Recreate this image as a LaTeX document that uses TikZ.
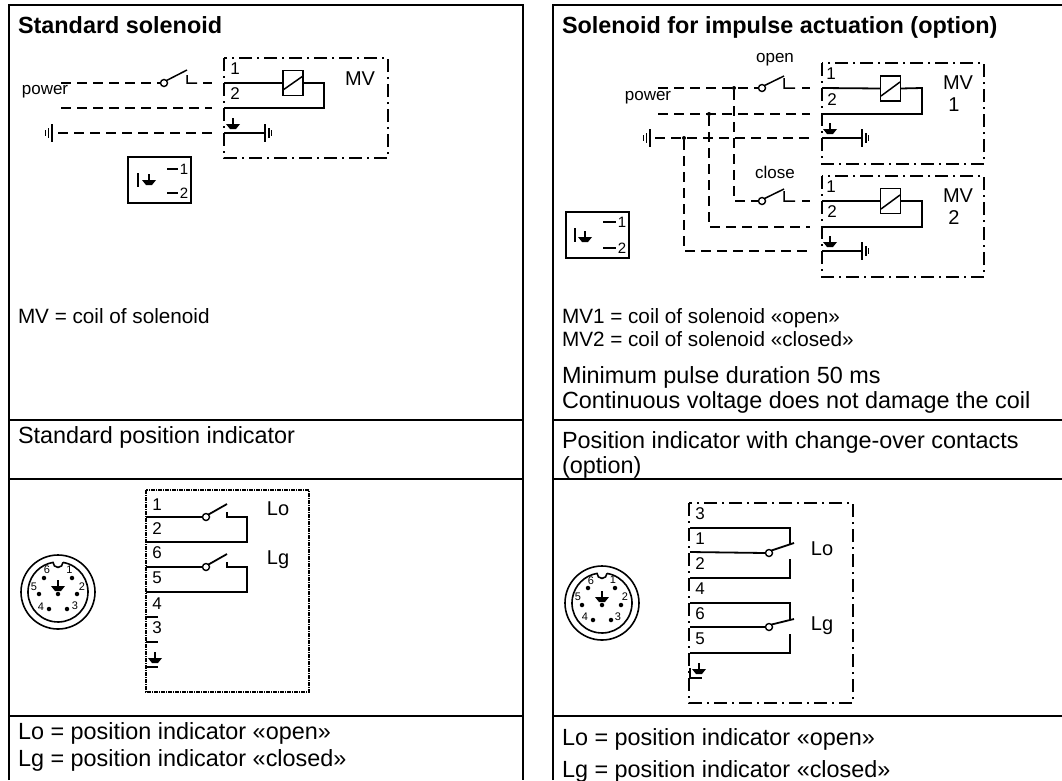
\documentclass[tikz,border=0pt]{standalone}
\usepackage{fontspec}
\setmainfont{Liberation Sans}
\tikzset{
 frameline/.style={line width=2pt,black},
 wire/.style={line width=1.8pt,black},
 thinwire/.style={line width=1.5pt,black},
 dashwire/.style={line width=1.6pt,black,dash pattern=on 10pt off 6pt},
 dashdotbox/.style={line width=1.6pt,black,dash pattern=on 13pt off 5pt on 2pt off 5pt},
 finebox/.style={line width=1.5pt,black,dash pattern=on 4pt off 1pt on 1pt off 1pt},
 body/.style={anchor=base west,inner sep=0pt,outer sep=0pt,font=\fontsize{23.4}{26}\selectfont},
 small/.style={anchor=base west,inner sep=0pt,outer sep=0pt,font=\fontsize{20.7}{24}\selectfont},
 head/.style={anchor=base west,inner sep=0pt,outer sep=0pt,font=\fontsize{23.4}{26}\selectfont\bfseries},
 lab/.style={inner sep=0pt,outer sep=0pt,font=\fontsize{17}{19}\selectfont},
 digit/.style={inner sep=0pt,outer sep=0pt,font=\fontsize{17}{19}\selectfont},
 keydigit/.style={inner sep=0pt,outer sep=0pt,font=\fontsize{15}{17}\selectfont},
 biglab/.style={inner sep=0pt,outer sep=0pt,font=\fontsize{20}{22}\selectfont},
 tiny/.style={inner sep=0pt,outer sep=0pt,font=\fontsize{11}{13}\selectfont},
 coilbox/.style={draw,line width=1.6pt,minimum width=20pt,minimum height=25pt,inner sep=0pt,outer sep=0pt},
 pivot/.style={circle,draw,line width=1.4pt,fill=white,minimum size=7pt,inner sep=0pt,outer sep=0pt},
 junction/.style={circle,fill=black,minimum size=4pt,inner sep=0pt,outer sep=0pt},
 keybox/.style={draw,line width=2pt,minimum width=63pt,minimum height=46pt,inner sep=0pt,outer sep=0pt},
 pin/.style={circle,fill=black,minimum size=4.5pt,inner sep=0pt,outer sep=0pt},
 chassis/.pic={\fill[black] (-7,0)--(7,0)--(3,5)--(-3,5)--cycle; \draw[line width=1.6pt] (0,-6)--(0,3);},
 earthR/.pic={\draw[line width=1.6pt] (0,-9)--(0,9); \draw[line width=1.2pt] (4,-5)--(4,5); \draw[line width=1.2pt] (6.5,-3)--(6.5,3);},
 earthL/.pic={\draw[line width=1.6pt] (0,-9)--(0,9); \draw[line width=1.2pt] (-3.5,-5)--(-3.5,5); \draw[line width=1.2pt] (-6.5,-3)--(-6.5,3);},
}
\begin{document}
\begin{tikzpicture}[x=1pt,y=-1pt]
\useasboundingbox (0,0) rectangle (1062,780);
% table frames
\coordinate (LT) at (9,5); \coordinate (RT) at (523,5);
\coordinate (LB) at (9,780); \coordinate (RB) at (523,780);
\draw[frameline] (LB)--(LT)--(RT)--(RB);
\draw[frameline] (9,420)--(523,420) (9,479)--(523,479) (9,716)--(523,716);
\coordinate (L2T) at (552.5,5); \coordinate (L2B) at (552.5,780); \coordinate (R2T) at (1062,5);
\draw[frameline] (L2B)--(L2T)--(R2T);
\draw[frameline] (552.5,420)--(1062,420) (552.5,479)--(1062,479) (552.5,716)--(1062,716);
% texts left
\node[head] (t1) at (18,33.5) {Standard solenoid};
\node[small] (t2) at (18,323) {MV = coil of solenoid};
\node[body] (t3) at (18,443) {Standard position indicator};
\node[body] (t4) at (18,739) {Lo = position indicator «open»};
\node[body] (t5) at (18,766) {Lg = position indicator «closed»};
% texts right
\node[head] (t6) at (562,33.5) {Solenoid for impulse actuation (option)};
\node[small] (t7) at (562,323) {MV1 = coil of solenoid «open»};
\node[small] (t8) at (562,346) {MV2 = coil of solenoid «closed»};
\node[body] (t9) at (562,383) {Minimum pulse duration 50 ms};
\node[body] (t10) at (562,408) {Continuous voltage does not damage the coil};
\node[body] (t11) at (562,448) {Position indicator with change-over contacts};
\node[body] (t12) at (562,473) {(option)};
\node[body] (t13) at (562,745) {Lo = position indicator «open»};
\node[body] (t14) at (562,777) {Lg = position indicator «closed»};

% ---------- top left schematic
\draw[dashdotbox] (224,58) rectangle (388,158);
\node[lab] (pw) at (45,92) {power};
\coordinate (a1) at (61,83); \coordinate (a2) at (61,108);
\coordinate (b1) at (224,83); \coordinate (b2) at (224,108); \coordinate (b3) at (224,133);
\node[pivot] (s1) at (164,83) {};
\coordinate (s1t) at (187,70); \coordinate (s1c) at (187,75); \coordinate (s1k) at (187,83); \coordinate (s1e) at (197,83);
\draw[dashwire] (a1)--(s1.west);
\draw[thinwire] (s1.north east)--(s1t) (s1c)--(s1k)--(s1e);
\draw[dashwire] (203,83)--(212,83);
\draw[dashwire] (a2)--(212,108);
\node[coilbox] (c1) at (293,83) {};
\coordinate (c1r) at (324,83); \coordinate (c1q) at (324,108);
\draw[thinwire] (283,90)--(303,76);
\draw[wire] (b1)--(c1.west) (c1.east)--(c1r)--(c1q)--(b2);
\node[biglab] (mv) at (360,79) {MV};
\node[digit] (n1) at (235,69) {1};
\node[digit] (n2) at (235,94) {2};
\pic at (233,124) {chassis};
\coordinate (g1r) at (265,133); \coordinate (g1l) at (52,133);
\draw[wire] (b3)--(g1r);
\pic at (g1r) {earthR};
\pic at (g1l) {earthL};
\draw[dashwire] (58,133)--(212,133);
\node[keybox] (k1) at (159.5,180) {};
\draw[line width=1.8pt] (138,173)--(138,187) (167,169)--(178,169) (167,193)--(178,193);
\pic at (149,180) {chassis};
\node[keydigit] (k11) at (184,169) {1};
\node[keydigit] (k12) at (184,193) {2};

% ---------- top right schematic
\draw[dashdotbox] (822,63) rectangle (984,164);
\draw[dashdotbox] (822,176) rectangle (984,277);
\node[lab] (pw2) at (648,98) {power};
\node[lab] (op) at (775,60) {open};
\node[lab] (cl) at (775,172) {close};
\coordinate (p1) at (658,88); \coordinate (p2) at (658,114);
\node[junction] (j1) at (734,88) {};
\node[junction] (j2) at (709,114) {};
\node[junction] (j3) at (684,138) {};
\node[pivot] (s2) at (762,88) {};
\node[pivot] (s3) at (762,201) {};
\coordinate (d1) at (822,88); \coordinate (d2) at (822,114); \coordinate (d3) at (822,138);
\coordinate (e1) at (822,201); \coordinate (e2) at (822,227); \coordinate (e3) at (822,251);
\coordinate (f1) at (810,88); \coordinate (f2) at (810,114); \coordinate (f3) at (810,138);
\coordinate (h1) at (810,201); \coordinate (h2) at (810,227); \coordinate (h3) at (810,251);
\draw[dashwire] (p1)--(s2.west);
\draw[dashwire] (p2)--(f2);
\draw[dashwire] (655,138)--(f3);
\draw[dashwire] (j1)--(734,201)--(s3.west);
\draw[dashwire] (j2)--(709,227)--(h2);
\draw[dashwire] (j3)--(684,251)--(h3);
\draw[thinwire] (s2.north east)--(784,76) (784,78)--(784,88)--(795,88);
\draw[thinwire] (s3.north east)--(784,189) (784,191)--(784,201)--(795,201);
\draw[dashwire] (802,88)--(f1) (802,201)--(h1);
\node[coilbox] (c2) at (890.5,88.5) {};
\node[coilbox] (c3) at (890.5,201) {};
\draw[thinwire] (881,96)--(900,82) (881,209)--(900,195);
\coordinate (c2r) at (922,88); \coordinate (c2q) at (922,114);
\coordinate (c3r) at (922,201); \coordinate (c3q) at (922,227);
\draw[wire] (d1)--(c2.west) (c2.east)--(c2r)--(c2q)--(d2);
\draw[wire] (e1)--(c3.west) (c3.east)--(c3r)--(c3q)--(e2);
\pic at (830,129) {chassis};
\pic at (830,242) {chassis};
\coordinate (g2r) at (862,138); \coordinate (g3r) at (862,251); \coordinate (g2l) at (650,138);
\draw[wire] (d3)--(g2r) (e3)--(g3r);
\pic at (g2r) {earthR};
\pic at (g3r) {earthR};
\pic at (g2l) {earthL};
\node[digit] (n3) at (831,74) {1};
\node[digit] (n4) at (832,100) {2};
\node[digit] (n5) at (831,187) {1};
\node[digit] (n6) at (832,212) {2};
\node[biglab] (mv1) at (958,83) {MV};
\node[biglab] (mv1b) at (954,105) {1};
\node[biglab] (mv2) at (958,196) {MV};
\node[biglab] (mv2b) at (954,218) {2};
\node[keybox] (k2) at (597,235) {};
\draw[line width=1.8pt] (575,228)--(575,242) (603,222)--(616,222) (603,248)--(616,248);
\pic at (585,237) {chassis};
\node[keydigit] (k21) at (622,222) {1};
\node[keydigit] (k22) at (622,248) {2};

% ---------- bottom left schematic
\draw[finebox] (146,490) rectangle (309,692);
\foreach \n/\y in {1/505,2/529,6/553,5/578,4/604,3/628}{
  \node[digit] (q\n) at (157,\y) {\n};
}
\node[biglab] (lo1) at (278,509) {Lo};
\node[biglab] (lg1) at (278,560) {Lg};
\node[pivot] (s4) at (206,517) {};
\node[pivot] (s5) at (206,567) {};
\coordinate (w1) at (146,517); \coordinate (w2) at (146,542);
\coordinate (w6) at (146,567); \coordinate (w5) at (146,592);
\draw[wire] (w1)--(s4.west) (s4.north east)--(227,504) (227,512)--(227,517)--(247,517)--(247,542)--(w2);
\draw[wire] (w6)--(s5.west) (s5.north east)--(227,554) (227,562)--(227,567)--(247,567)--(247,592)--(w5);
\draw[wire] (146,617)--(158,617) (146,642)--(158,642) (146,667)--(158,667);
\pic at (155,658) {chassis};
% connector
\draw[line width=1.6pt] (58,592) circle[radius=37];
\draw[line width=1.6pt] (63,562.4) arc[start angle=-80.4,end angle=260.4,radius=30] arc[start angle=180,end angle=0,radius=5];
\foreach \n/\x/\y/\lx/\ly in {1/72/578/69.5/570,6/44/578/47/570,2/77/594/82/587,5/39/594/34/587,3/67/609/75/606,4/49/609/41/607}{
  \node[pin] (pa\n) at (\x,\y) {};
  \node[tiny] (la\n) at (\lx,\ly) {\n};
}
\node[pin] (pa0) at (58,594) {};
\pic at (58,586) {chassis};

% ---------- bottom right schematic
\draw[dashdotbox] (689,503) rectangle (853,703);
\foreach \n/\y in {3/514,1/539,2/564,4/589,6/614,5/639}{
  \node[digit] (r\n) at (700,\y) {\n};
}
\node[biglab] (lo2) at (822,549) {Lo};
\node[biglab] (lg2) at (822,626) {Lg};
\node[pivot] (s6) at (769,553) {};
\node[pivot] (s7) at (769,627) {};
\coordinate (x1) at (690,528); \coordinate (x2) at (690,552); \coordinate (x3) at (690,578);
\coordinate (x4) at (690,603); \coordinate (x5) at (690,627); \coordinate (x6) at (690,653);
\draw[wire] (x1)--(790,528)--(790,544) (x2)--(s6.west) (s6.north east)--(794,543) (790,559)--(790,578)--(x3);
\draw[wire] (x4)--(790,603)--(790,619) (x5)--(s7.west) (s7.north east)--(794,619) (790,634)--(790,653)--(x6);
\pic at (699,669) {chassis};
\draw[wire] (690,668)--(690,678)--(702,678);
\draw[line width=1.6pt] (602,603) circle[radius=37];
\draw[line width=1.6pt] (607,573.4) arc[start angle=-80.4,end angle=260.4,radius=30] arc[start angle=180,end angle=0,radius=5];
\foreach \n/\x/\y/\lx/\ly in {1/615/588/613/580,6/588/588/591/581,2/621/605/625/597,5/582/605/578/597,3/611/620/618/617,4/593/620/585/617}{
  \node[pin] (pb\n) at (\x,\y) {};
  \node[tiny] (lb\n) at (\lx,\ly) {\n};
}
\node[pin] (pb0) at (602,605) {};
\pic at (602,597) {chassis};
\end{tikzpicture}
\end{document}
